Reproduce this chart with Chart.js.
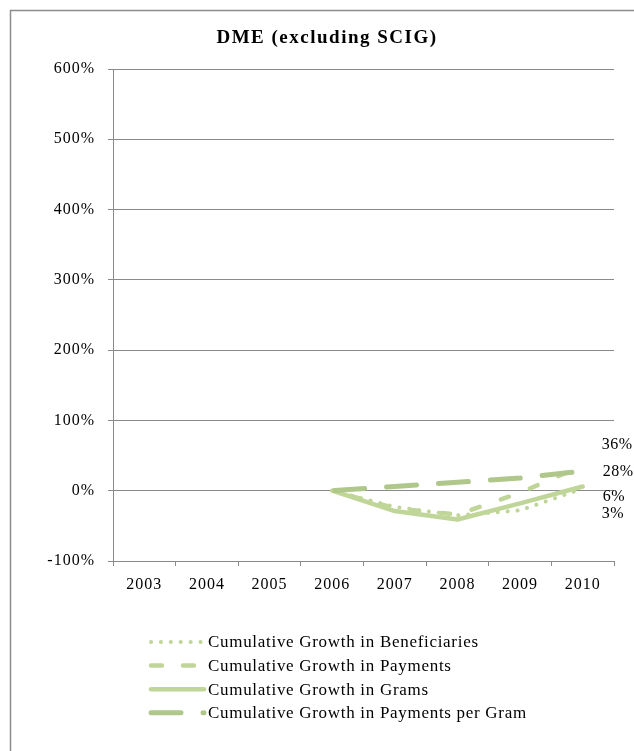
<!DOCTYPE html>
<html>
<head>
<meta charset="utf-8">
<script src="https://cdn.jsdelivr.net/npm/chart.js@4/dist/chart.umd.min.js"></script>
<style>
  html, body { margin: 0; padding: 0; background: #ffffff; }
  #wrap { width: 634px; height: 751px; position: relative; }
</style>
</head>
<body>
<div id="wrap"><canvas id="c" width="634" height="751"></canvas></div>
<script>
// Years on the category axis
const years = ['2003', '2004', '2005', '2006', '2007', '2008', '2009', '2010'];

// Cumulative growth since 2006, in percent
const beneficiaries   = [null, null, null, 0, -23, -35, -28, 3];
const payments        = [null, null, null, 0, -25, -34, -3, 36];
const grams           = [null, null, null, 0, -29, -41, -18, 6];
const paymentsPerGram = [null, null, null, 0, 6, 12, 18, 28];

const seriesNames = [
  'Cumulative Growth in Beneficiaries',
  'Cumulative Growth in Payments',
  'Cumulative Growth in Grams',
  'Cumulative Growth in Payments per Gram'
];

// Value axis ticks, in percent
const yTicks = [-100, 0, 100, 200, 300, 400, 500, 600];

const chartTitle = 'DME (excluding SCIG)';

const SERIF = '"Liberation Serif", "Times New Roman", serif';
const GRID = '#8a8a8a';
const LIGHT = '#c0d598';
const DARK = '#afc78a';

// End-of-line label placement (dx, dy) relative to the final point of each series
const endLabelOffsets = [[19, 25], [19, -21], [20, 10], [20, 1]];

const framePlugin = {
  id: 'frame',
  beforeDraw(chart) {
    const ctx = chart.ctx;
    ctx.save();
    ctx.fillStyle = '#ffffff';
    ctx.fillRect(0, 0, chart.width, chart.height);
    ctx.strokeStyle = '#8c8c8c';
    ctx.lineWidth = 1.5;
    ctx.beginPath();
    ctx.moveTo(10.5, chart.height);
    ctx.lineTo(10.5, 10.5);
    ctx.lineTo(chart.width, 10.5);
    ctx.stroke();
    ctx.restore();
    // spacing used by the axis tick labels
    ctx.letterSpacing = '1px';
  },
  afterDraw(chart) {
    const ctx = chart.ctx;
    ctx.save();
    // title
    ctx.letterSpacing = '1.5px';
    ctx.fillStyle = '#000000';
    ctx.font = 'bold 19px ' + SERIF;
    ctx.textAlign = 'center';
    ctx.textBaseline = 'middle';
    ctx.fillText(chartTitle, 327, 38);

    // legend, one series per row
    const rowY0 = 642, rowStep = 23.6;
    chart.data.datasets.forEach((ds, i) => {
      const y = rowY0 + i * rowStep;
      ctx.save();
      ctx.strokeStyle = ds.borderColor;
      ctx.lineWidth = ds.borderWidth;
      ctx.lineCap = ds.borderCapStyle || 'butt';
      ctx.setLineDash(ds.legendDash || ds.borderDash || []);
      ctx.beginPath();
      ctx.moveTo(151, y);
      ctx.lineTo(204, y);
      ctx.stroke();
      ctx.restore();
      ctx.letterSpacing = '0.7px';
      ctx.font = '17px ' + SERIF;
      ctx.fillStyle = '#000000';
      ctx.textAlign = 'left';
      ctx.textBaseline = 'middle';
      ctx.fillText(ds.label, 208, y + 1);
    });
    ctx.restore();
  },
  afterDatasetsDraw(chart) {
    const ctx = chart.ctx;
    ctx.save();
    ctx.letterSpacing = '0.5px';
    ctx.font = '16px ' + SERIF;
    ctx.fillStyle = '#000000';
    ctx.textAlign = 'left';
    ctx.textBaseline = 'middle';
    chart.data.datasets.forEach((ds, i) => {
      const meta = chart.getDatasetMeta(i);
      const last = ds.data.length - 1;
      const pt = meta.data[last];
      const off = endLabelOffsets[i];
      ctx.fillText(ds.data[last] + '%', pt.x + off[0], pt.y + off[1]);
    });
    ctx.restore();
  }
};

new Chart(document.getElementById('c'), {
  type: 'line',
  data: {
    labels: years,
    datasets: [
      {
        label: seriesNames[0], data: beneficiaries, order: 4,
        borderColor: LIGHT, borderWidth: 4, borderDash: [0.1, 9.8],
        borderCapStyle: 'round', borderJoinStyle: 'round'
      },
      {
        label: seriesNames[1], data: payments, order: 3,
        borderColor: LIGHT, borderWidth: 4.5, borderDash: [8.5, 22.5],
        borderDashOffset: 12, legendDash: [11, 21],
        borderCapStyle: 'round', borderJoinStyle: 'round'
      },
      {
        label: seriesNames[2], data: grams, order: 2,
        borderColor: LIGHT, borderWidth: 4.5, borderDash: [],
        borderCapStyle: 'round', borderJoinStyle: 'round'
      },
      {
        label: seriesNames[3], data: paymentsPerGram, order: 1,
        borderColor: DARK, borderWidth: 5, borderDash: [30, 22],
        borderDashOffset: -2.5, legendDash: [30, 22],
        borderCapStyle: 'round', borderJoinStyle: 'round'
      }
    ]
  },
  options: {
    responsive: false,
    animation: false,
    devicePixelRatio: 1,
    layout: { padding: { top: 69, right: 20, bottom: 0, left: 0 } },
    elements: { point: { radius: 0, hoverRadius: 0 }, line: { tension: 0 } },
    plugins: {
      legend: { display: false },
      title: { display: false },
      tooltip: { enabled: false }
    },
    scales: {
      x: {
        type: 'category',
        offset: true,
        afterFit(scale) { scale.height = 190; },
        grid: {
          offset: true, drawOnChartArea: false, drawTicks: true,
          tickLength: 5, color: GRID, lineWidth: 1
        },
        border: { color: GRID, width: 1 },
        ticks: {
          color: '#000000', padding: 9, maxRotation: 0, autoSkip: false,
          font: { family: SERIF, size: 16 }
        }
      },
      y: {
        min: -100,
        max: 600,
        afterFit(scale) { scale.width = 113; },
        afterBuildTicks(scale) { scale.ticks = yTicks.map(v => ({ value: v })); },
        grid: { color: GRID, lineWidth: 1, drawTicks: true, tickLength: 5 },
        border: { color: GRID, width: 1 },
        ticks: {
          color: '#000000', padding: 13,
          font: { family: SERIF, size: 16 },
          callback: v => v + '%'
        }
      }
    }
  },
  plugins: [framePlugin]
});
</script>
</body>
</html>
